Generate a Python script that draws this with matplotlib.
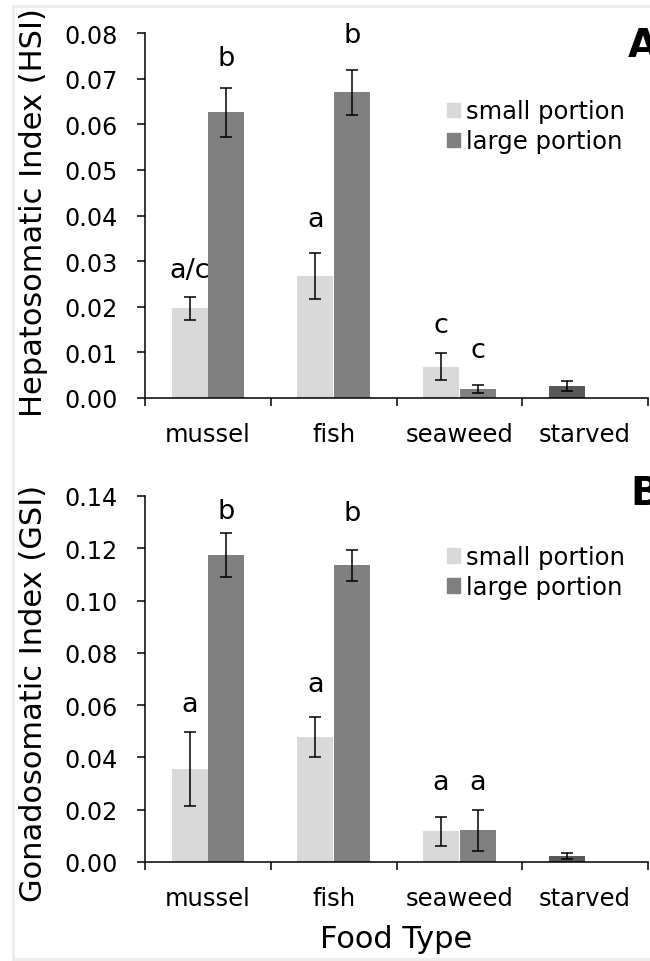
import matplotlib
matplotlib.use('Agg')
import matplotlib.pyplot as plt
import numpy as np
from matplotlib.lines import Line2D
from matplotlib.patches import Patch

plt.rcParams['font.family'] = ['DejaVu Sans']

# ---------------- data ----------------
categories = ['mussel', 'fish', 'seaweed', 'starved']
fed_categories = ['mussel', 'fish', 'seaweed']
series_names = ['small portion', 'large portion']

# Panel A: Hepatosomatic Index
hsi_small = [0.0197, 0.0267, 0.0069]
hsi_small_err = [0.0025, 0.0050, 0.0029]
hsi_large = [0.0626, 0.0670, 0.0020]
hsi_large_err = [0.0053, 0.0049, 0.0008]
hsi_starved = [0.0026]
hsi_starved_err = [0.0011]
hsi_letters_small = ['a/c', 'a', 'c']
hsi_letters_small_y = [0.0266, 0.0376, 0.0145]
hsi_letters_large = ['b', 'b', 'c']
hsi_letters_large_y = [0.0730, 0.0780, 0.0090]

# Panel B: Gonadosomatic Index
gsi_small = [0.0356, 0.0479, 0.0117]
gsi_small_err = [0.0142, 0.0077, 0.0057]
gsi_large = [0.1174, 0.1135, 0.0121]
gsi_large_err = [0.0084, 0.0060, 0.0079]
gsi_starved = [0.0023]
gsi_starved_err = [0.0012]
gsi_letters_small = ['a', 'a', 'a']
gsi_letters_small_y = [0.0578, 0.0654, 0.0280]
gsi_letters_large = ['b', 'b', 'a']
gsi_letters_large_y = [0.1317, 0.1307, 0.0280]

# ---------------- style ----------------
LIGHT = '#d9d9d9'
DARK = '#808080'
STARVED = '#595959'
W = 0.286
OFF = 0.145

fig = plt.figure(figsize=(6.5, 9.62), dpi=100)
FW, FH = 650.0, 962.0


def ax_rect(left, top, right, bottom):
    return [left / FW, 1 - bottom / FH, (right - left) / FW, (bottom - top) / FH]


def panel(ax, small, small_err, large, large_err, starved, starved_err,
          ls, ls_y, ll, ll_y, ymax, step, ylabel, ylabel_y, leg_y):
    x = np.arange(len(fed_categories))
    ekw = dict(ecolor='black', elinewidth=1.1, capsize=4.6, capthick=1.1)
    ax.bar(x - OFF, small, W, color=LIGHT, yerr=small_err, error_kw=ekw)
    ax.bar(x + OFF, large, W, color=DARK, yerr=large_err, error_kw=ekw)
    xs = np.arange(len(fed_categories), len(categories))
    ax.bar(xs - OFF, starved, W, color=STARVED, yerr=starved_err, error_kw=ekw)

    for xi, t, yy in zip(x, ls, ls_y):
        ax.text(xi - OFF, yy, t, ha='center', va='baseline', fontsize=19.5)
    for xi, t, yy in zip(x, ll, ll_y):
        ax.text(xi + OFF, yy, t, ha='center', va='baseline', fontsize=19.5)

    ax.set_xlim(-0.5, len(categories) - 0.5)
    ax.set_ylim(0, ymax)
    ax.set_yticks(np.arange(0, ymax + step / 2, step))
    ax.yaxis.set_major_formatter(matplotlib.ticker.FormatStrFormatter('%.2f'))

    ax.set_xticks(np.arange(len(categories) + 1) - 0.5)
    ax.set_xticklabels([])
    ax.set_xticks(np.arange(len(categories)), minor=True)
    ax.set_xticklabels(categories, minor=True)
    ax.tick_params(axis='x', which='major', direction='out', length=5.8, width=1.1)
    ax.tick_params(axis='x', which='minor', length=0, pad=17.0, labelsize=17.5)
    ax.tick_params(axis='y', direction='out', length=5.8, width=1.1, pad=13.7,
                   labelsize=17.2)

    for s in ['top', 'right']:
        ax.spines[s].set_visible(False)
    for s in ['left', 'bottom']:
        ax.spines[s].set_linewidth(1.1)

    ax.set_ylabel(ylabel, fontsize=22)
    ax.yaxis.set_label_coords(-0.193, ylabel_y)

    handles = [Patch(color=LIGHT, label=series_names[0]),
               Patch(color=DARK, label=series_names[1])]
    ax.legend(handles=handles, loc='center left', bbox_to_anchor=(0.600, leg_y),
              frameon=False, fontsize=17.5, handlelength=0.53, handleheight=0.53,
              handletextpad=0.25, labelspacing=0.25, borderpad=0, borderaxespad=0)


ax1 = fig.add_axes(ax_rect(145, 34, 648, 399))
ax2 = fig.add_axes(ax_rect(145, 497, 648, 863))

panel(ax1, hsi_small, hsi_small_err, hsi_large, hsi_large_err, hsi_starved,
      hsi_starved_err, hsi_letters_small, hsi_letters_small_y,
      hsi_letters_large, hsi_letters_large_y, 0.08, 0.01,
      'Hepatosomatic Index (HSI)', 0.51, 0.744)
panel(ax2, gsi_small, gsi_small_err, gsi_large, gsi_large_err, gsi_starved,
      gsi_starved_err, gsi_letters_small, gsi_letters_small_y,
      gsi_letters_large, gsi_letters_large_y, 0.14, 0.02,
      'Gonadosomatic Index (GSI)', 0.464, 0.792)

ax2.set_xlabel('Food Type', fontsize=22)
ax2.xaxis.set_label_coords(0.5, -0.169)

fig.text(628 / FW, 1 - 57 / FH, 'A', fontsize=28, fontweight='bold',
         ha='left', va='baseline')
fig.text(630 / FW, 1 - 505 / FH, 'B', fontsize=28, fontweight='bold',
         ha='left', va='baseline')

# light frame around the figure
fc = '#efecec'
fig.add_artist(Line2D([13 / FW, 1], [1 - 7 / FH, 1 - 7 / FH], color=fc, lw=2.2))
fig.add_artist(Line2D([13 / FW, 13 / FW], [1 - 7 / FH, 1 - 960 / FH], color=fc, lw=2.2))
fig.add_artist(Line2D([13 / FW, 1], [1 - 960 / FH, 1 - 960 / FH], color=fc, lw=2.2))

fig.savefig('out.png', dpi=100)
